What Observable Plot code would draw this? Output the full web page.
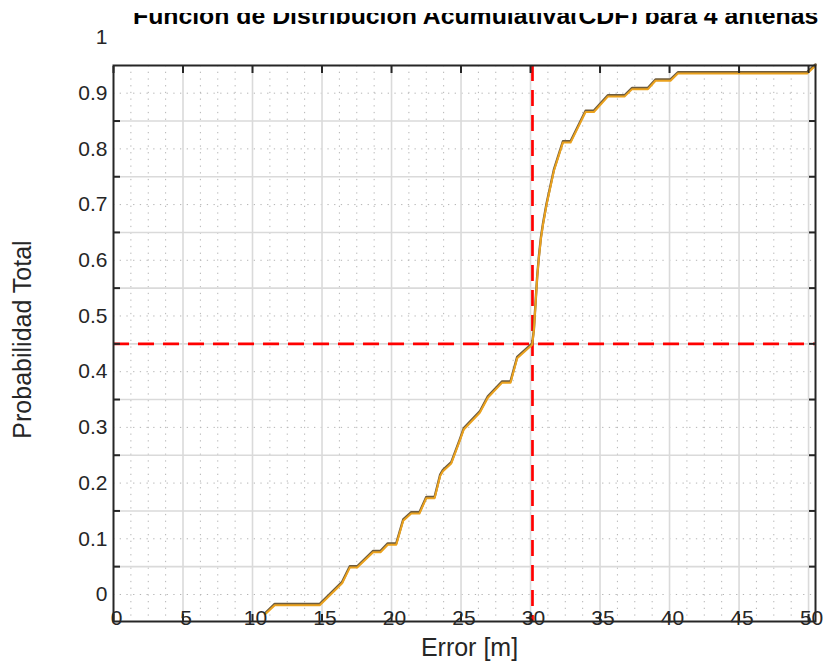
<!DOCTYPE html>
<html>
<head>
<meta charset="utf-8">
<script src="https://cdn.jsdelivr.net/npm/d3@7"></script>
<script src="https://cdn.jsdelivr.net/npm/@observablehq/plot@0.6"></script>
<style>
  html, body { margin: 0; padding: 0; background: #fff; }
  #wrap { position: relative; width: 823px; height: 664px; overflow: hidden; }
  #title { position: absolute; left: 133px; top: 13px; height: 11px; width: 690px; overflow: hidden; white-space: nowrap; }
  #title span { display: block; font: bold 24.8px "Liberation Sans", Arial, sans-serif; line-height: 25px; margin-top: -10.2px; color: #000; }
</style>
</head>
<body>
<div id="wrap"><div id="title"><span>Función de Distribución Acumulativa(CDF) para 4 antenas</span></div></div>
<script>
// CDF curve (error in metres, cumulative probability)
const errorM = [10.95, 11.6, 14.84, 16.45, 17.0, 17.53, 18.68, 19.21, 19.73, 20.34, 20.84, 21.42, 22.01, 22.5, 23.1, 23.5, 23.7, 24.3, 24.9, 25.2, 26.35, 26.93, 27.96, 28.56, 29.04, 30.12, 30.24, 30.36, 30.48, 30.6, 30.75, 30.9, 31.15, 31.68, 32.33, 32.88, 33.96, 34.56, 35.56, 36.76, 37.31, 38.45, 38.99, 40.07, 40.6, 49.9, 50.5];
const probTotal = [-0.034, -0.0185, -0.0185, 0.021, 0.049, 0.049, 0.0766, 0.0766, 0.090, 0.090, 0.133, 0.146, 0.146, 0.1736, 0.1736, 0.2136, 0.222, 0.236, 0.276, 0.297, 0.327, 0.354, 0.381, 0.381, 0.425, 0.449, 0.474, 0.522, 0.570, 0.605, 0.640, 0.665, 0.700, 0.761, 0.812, 0.812, 0.867, 0.867, 0.8946, 0.8946, 0.908, 0.908, 0.923, 0.923, 0.936, 0.936, 0.95];

// reference (dashed) lines
const refX = [30.14];
const refY = [0.45];

// ticks / grid
const xTicks = [0, 5, 10, 15, 20, 25, 30, 35, 40, 45, 50];
const xMajorGrid = [5, 10, 15, 20, 25, 30, 35, 40, 45, 50];
const yTicks = [0, 0.1, 0.2, 0.3, 0.4, 0.5, 0.6, 0.7, 0.8, 0.9, 1];
const yTickLabels = ["0", "0.1", "0.2", "0.3", "0.4", "0.5", "0.6", "0.7", "0.8", "0.9", "1"];
const yMinorGrid = [0, 0.1, 0.2, 0.3, 0.4, 0.5, 0.6, 0.7, 0.8, 0.9];
const yMajorGrid = [0.05, 0.15, 0.25, 0.35, 0.45, 0.55, 0.65, 0.75, 0.85];
const xMinorGrid = d3.range(0, 50.5, 1.25).filter(v => v % 5 !== 0);

const xLabel = "Error [m]";
const yLabel = "Probabilidad Total";

const data = errorM.map((e, i) => ({e, p: probTotal[i]}));
const ink = "#262626";

const chart = Plot.plot({
  width: 823,
  height: 664,
  marginLeft: 113,
  marginRight: 8,
  marginTop: 65,
  marginBottom: 43,
  x: {domain: [0, 50.5], label: null},
  y: {domain: [-0.0485, 0.9497], label: null},
  style: {fontFamily: "'Liberation Sans', Arial, sans-serif", color: ink, background: "transparent", overflow: "visible"},
  marks: [
    Plot.ruleX(xMinorGrid, {x: d => d, stroke: "#b4b4b4", strokeWidth: 1, strokeDasharray: "1.3,5.4"}),
    Plot.ruleY(yMinorGrid, {y: d => d, stroke: "#b4b4b4", strokeWidth: 1, strokeDasharray: "1.3,5.4"}),
    Plot.ruleX(xMajorGrid, {x: d => d, stroke: "#dadada", strokeWidth: 1.6}),
    Plot.ruleY(yMajorGrid, {y: d => d, stroke: "#dadada", strokeWidth: 1.6}),
    Plot.ruleX(refX, {x: d => d, stroke: "#ff0000", strokeWidth: 2.7, strokeDasharray: "16,9"}),
    Plot.ruleY(refY, {y: d => d, stroke: "#ff0000", strokeWidth: 2.7, strokeDasharray: "16,9"}),
    Plot.line(data, {x: d => d.e, y: d => d.p, stroke: "#6e5c3e", strokeWidth: 2.4, dy: -0.9}),
    Plot.line(data, {x: d => d.e, y: d => d.p, stroke: "#eba21e", strokeWidth: 2, dy: 0.4}),
    Plot.frame({stroke: ink, strokeWidth: 2}),
    // inward tick marks
    Plot.axisX(xTicks, {anchor: "top", tickSize: -7, tickFormat: () => "", stroke: ink, strokeWidth: 2, label: null}),
    Plot.axisX(xTicks, {anchor: "bottom", tickSize: -7, tickFormat: () => "", stroke: ink, strokeWidth: 2, label: null}),
    Plot.axisY(yMajorGrid, {anchor: "left", tickSize: -7, tickFormat: () => "", stroke: ink, strokeWidth: 2, label: null}),
    Plot.axisY(yMajorGrid, {anchor: "right", tickSize: -7, tickFormat: () => "", stroke: ink, strokeWidth: 2, label: null}),
    // tick labels
    Plot.axisY(yTicks, {anchor: "left", tickSize: 0, tickPadding: 6, fontSize: 21, fill: ink, label: null,
      tickFormat: d => yTickLabels[yTicks.indexOf(d)]}),
    Plot.axisX(xTicks, {anchor: "bottom", tickSize: 0, tickPadding: 0, dy: -11, dx: 3, fontSize: 21, fill: ink, label: null,
      tickFormat: d => String(d)}),
    // axis titles
    Plot.text([yLabel], {frameAnchor: "left", textAnchor: "middle", lineAnchor: "middle", rotate: -90, dx: -91, dy: -4, fontSize: 25, fill: ink}),
    Plot.text([xLabel], {frameAnchor: "bottom", textAnchor: "middle", lineAnchor: "bottom", dx: 5, dy: 34, fontSize: 25, fill: ink})
  ]
});
document.getElementById("wrap").prepend(chart);
</script>
</body>
</html>
